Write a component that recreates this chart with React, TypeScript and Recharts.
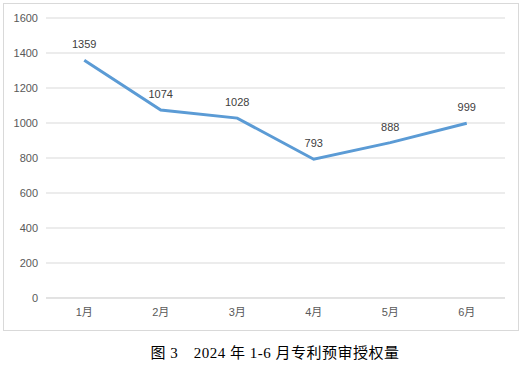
import React from "react";
import { LineChart, Line, XAxis, YAxis, CartesianGrid, LabelList } from "recharts";

const months = ["1月", "2月", "3月", "4月", "5月", "6月"];
const grants = [1359, 1074, 1028, 793, 888, 999];
const yTicks = [0, 200, 400, 600, 800, 1000, 1200, 1400, 1600];
const caption = "图 3　2024 年 1-6 月专利预审授权量";

const data = months.map((m, i) => ({ month: m, value: grants[i] }));

const font = '"Liberation Sans", "Noto Sans CJK SC", sans-serif';

export default function App() {
  return (
    <div style={{ position: "relative", width: 522, height: 365, background: "#fff" }}>
      <style>{`html,body{margin:0;padding:0;background:#fff;}`}</style>
      <div
        style={{
          position: "absolute",
          left: 3,
          top: 3,
          width: 514,
          height: 326,
          border: "1px solid #d9d9d9",
        }}
      >
        <LineChart
          width={514}
          height={326}
          data={data}
          margin={{ top: 14, right: 13, left: 0, bottom: 0 }}
        >
          <CartesianGrid vertical={false} stroke="#d9d9d9" />
          <XAxis
            dataKey="month"
            scale="band"
            axisLine={{ stroke: "#d9d9d9" }}
            tickLine={false}
            tickSize={0}
            tickMargin={10}
            height={32}
            tick={{ fill: "#595959", fontSize: 11, fontFamily: font }}
          />
          <YAxis
            domain={[0, 1600]}
            ticks={yTicks}
            axisLine={false}
            tickLine={false}
            tickSize={0}
            tickMargin={8}
            width={42}
            tick={{ fill: "#595959", fontSize: 11, fontFamily: font }}
          />
          <Line
            type="linear"
            dataKey="value"
            stroke="#5b9bd5"
            strokeWidth={3}
            dot={false}
            isAnimationActive={false}
          >
            <LabelList
              dataKey="value"
              position="top"
              offset={12}
              style={{ fill: "#404040", fontSize: 11, fontFamily: font }}
            />
          </Line>
        </LineChart>
      </div>
      <div
        style={{
          position: "absolute",
          left: 0,
          width: 550,
          top: 345,
          lineHeight: "16px",
          textAlign: "center",
          fontFamily: '"Liberation Serif", "Noto Sans CJK SC", serif',
          fontSize: 15,
          letterSpacing: 0.5,
          color: "#000",
          whiteSpace: "pre",
        }}
      >
        {caption}
      </div>
    </div>
  );
}
